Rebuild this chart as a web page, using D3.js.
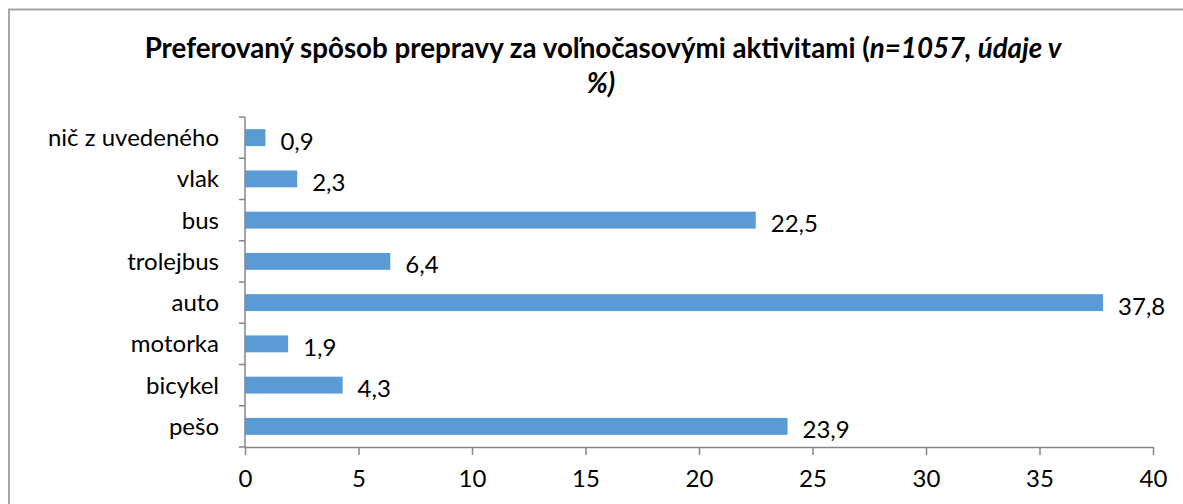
<!DOCTYPE html>
<html>
<head>
<meta charset="utf-8">
<script src="https://cdn.jsdelivr.net/npm/d3@7"></script>
<style>
  body { margin: 0; background: #fff; }
  svg { font-family: Lato, "Open Sans", sans-serif; }
</style>
</head>
<body>
<svg width="1183" height="504"></svg>
<script>
// data (top to bottom)
const categories = ["nič z uvedeného", "vlak", "bus", "trolejbus", "auto", "motorka", "bicykel", "pešo"]
const values = [0.9, 2.3, 22.5, 6.4, 37.8, 1.9, 4.3, 23.9]
const xTicks = [0, 5, 10, 15, 20, 25, 30, 35, 40]

const data = categories.map((c, i) => ({ cat: c, value: values[i] }))

const svg = d3.select("svg")

// chart frame
svg.append("rect")
    .attr("x", 9)
    .attr("y", 9.5)
    .attr("width", 1200)
    .attr("height", 520)
    .style("fill", "none")
    .style("stroke", "#a6a6a6")
    .style("stroke-width", 2)

// title
const title = svg.append("text")
    .attr("text-anchor", "middle")
    .style("font-weight", "bold")
    .style("font-size", "21px")
    .style("fill", "#000")
const line1 = title.append("tspan")
    .attr("x", 603)
    .attr("y", 58)
    .text("Preferovaný spôsob prepravy za voľnočasovými aktivitami (")
line1.append("tspan")
    .style("font-style", "italic")
    .text("n=1057, údaje v")
title.append("tspan")
    .attr("x", 601)
    .attr("y", 93)
    .style("font-style", "italic")
    .text("%)")

// scale title font so the first line is as wide as in the picture
const w1 = line1.node().getComputedTextLength()
title.style("font-size", (21 * 917 / w1).toFixed(2) + "px")

const x = d3.scaleLinear().domain([0, 40]).range([245, 1153])
const y = d3.scaleBand().domain(categories).range([117, 447]).paddingInner(0.59).paddingOuter(0.295)

// bars
svg.append("g")
    .selectAll("rect")
    .data(data)
    .enter()
    .append("rect")
    .attr("x", x(0))
    .attr("y", d => y(d.cat))
    .attr("width", d => x(d.value) - x(0))
    .attr("height", y.bandwidth())
    .style("fill", "#5b9bd5")

// value labels
svg.append("g")
    .selectAll("text")
    .data(data)
    .enter()
    .append("text")
    .attr("x", d => x(d.value) + 15)
    .attr("y", d => y(d.cat) + y.bandwidth() / 2)
    .attr("dy", "0.5em")
    .style("font-size", "24px")
    .style("fill", "#000")
    .text(d => String(d.value).replace(".", ","))

// y axis (category) with tick marks between bands
const yAxisG = svg.append("g")
yAxisG.append("line")
    .attr("x1", x(0)).attr("x2", x(0))
    .attr("y1", 117).attr("y2", 447)
    .style("stroke", "#868686")
    .style("stroke-width", 1.5)
const bounds = d3.range(categories.length + 1).map(i => 117 + i * (330 / categories.length))
yAxisG.selectAll("line.tick")
    .data(bounds)
    .enter()
    .append("line")
    .attr("class", "tick")
    .attr("x1", x(0) - 6).attr("x2", x(0))
    .attr("y1", d => d).attr("y2", d => d)
    .style("stroke", "#868686")
    .style("stroke-width", 1.5)
yAxisG.selectAll("text")
    .data(categories)
    .enter()
    .append("text")
    .attr("x", 219)
    .attr("y", d => y(d) + y.bandwidth() / 2)
    .attr("dy", "0.35em")
    .attr("text-anchor", "end")
    .style("font-size", "24px")
    .style("fill", "#000")
    .text(d => d)

// x axis
const xAxis = d3.axisBottom(x).tickValues(xTicks).tickSize(8).tickPadding(15).tickSizeOuter(0)
const xAxisG = svg.append("g")
    .attr("transform", "translate(0,447)")
    .call(xAxis)
xAxisG.select(".domain").style("stroke", "#868686").style("stroke-width", 1.5)
xAxisG.selectAll(".tick line").style("stroke", "#868686").style("stroke-width", 1.5)
xAxisG.selectAll(".tick text")
    .style("font-size", "24px")
    .style("font-family", "Lato, 'Open Sans', sans-serif")
    .style("fill", "#000")
</script>
</body>
</html>
